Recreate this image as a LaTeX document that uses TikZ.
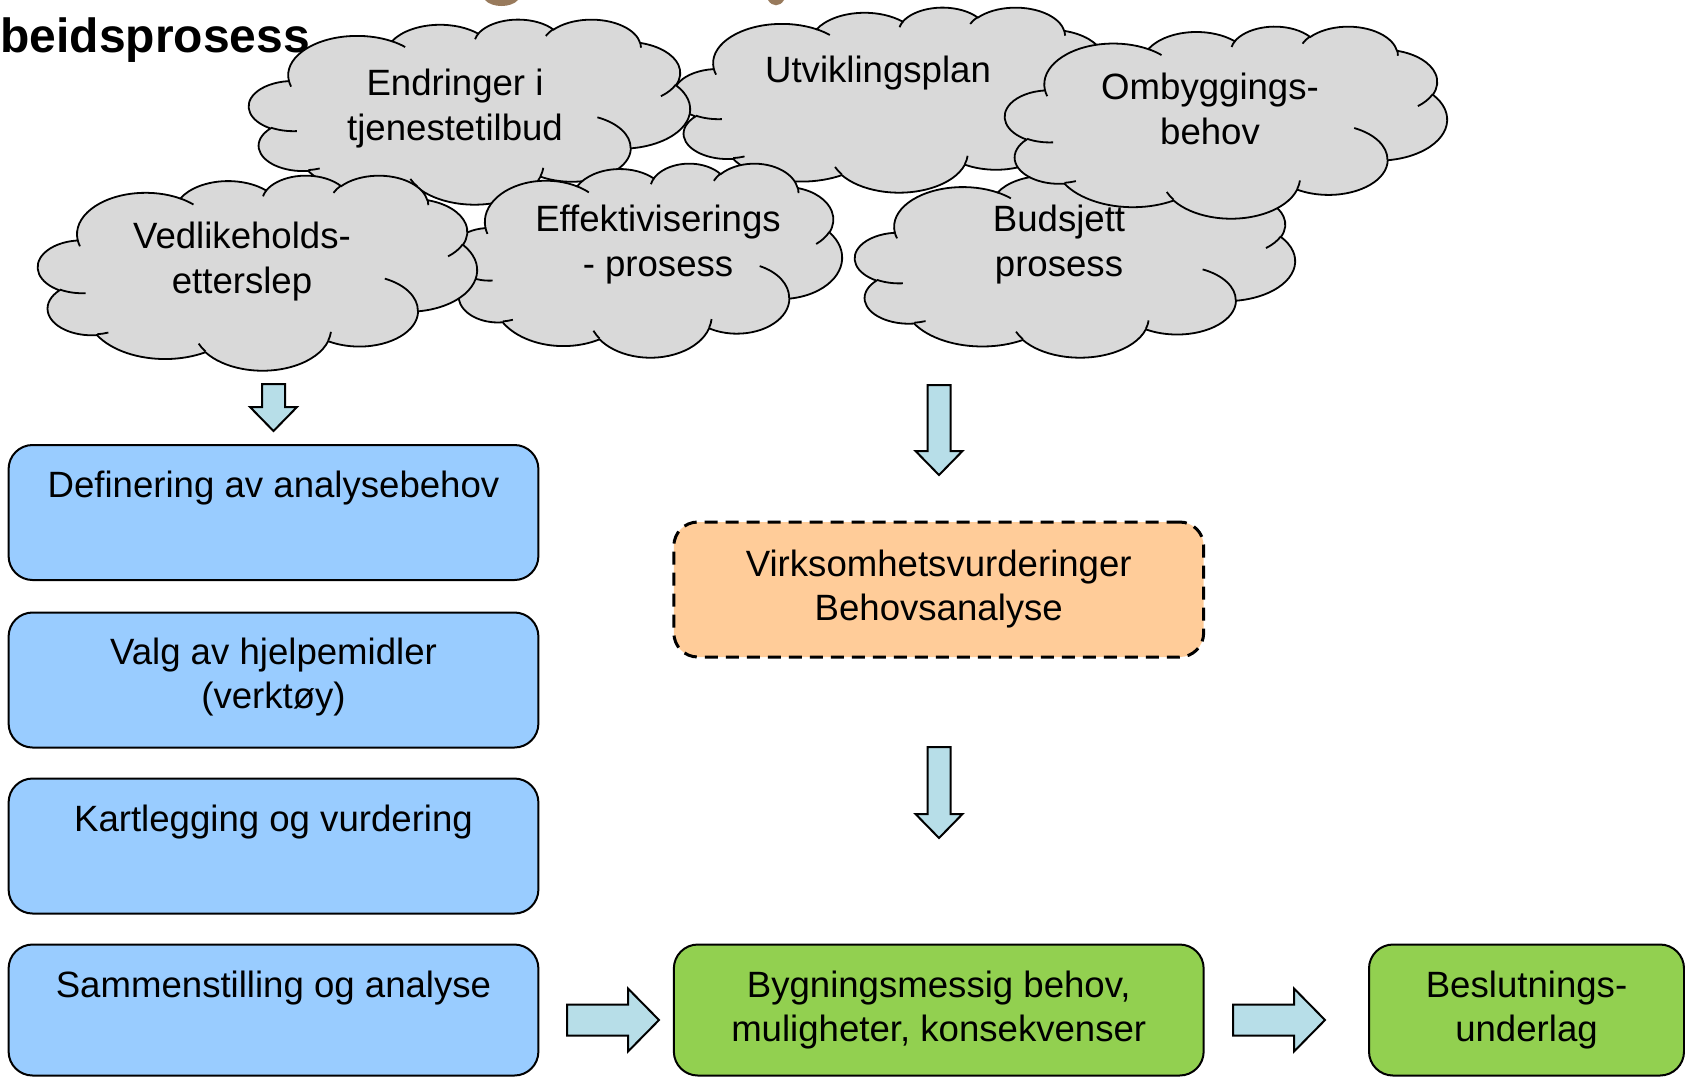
\documentclass[tikz,border=0pt]{standalone}
\usepackage{fontspec}
\setmainfont{Liberation Sans}

\definecolor{boxblue}{HTML}{99CCFF}
\definecolor{boxorange}{HTML}{FFCC99}
\definecolor{boxgreen}{HTML}{92D050}
\definecolor{arrowfill}{HTML}{B7DEE8}
\definecolor{cloudgray}{HTML}{D9D9D9}
\definecolor{titlebrown}{RGB}{152,122,92}

% Elliptic arc whose start angle and sweep are visual angles (as in office cloud shapes)
\newcommand\cloudarc[4]{%
  \pgfextra{%
    \pgfmathsetmacro\cldA{atan2((#1)*sin(#3),(#2)*cos(#3))}%
    \pgfmathsetmacro\cldB{atan2((#1)*sin((#3)+(#4)),(#2)*cos((#3)+(#4)))}%
    \pgfmathsetmacro\cldB{ifthenelse(\cldB<\cldA,\cldB+360,\cldB)}%
    \global\let\cldA\cldA\global\let\cldB\cldB}%
  arc[x radius=#1, y radius=#2, start angle=\cldA, end angle=\cldB]}

% Cloud outline in a 43.2 x 43.2 frame, placed in the box left/top/width/height
\newcommand\cloudshape[4]{%
  \begin{scope}[shift={(#1,#2)}, xscale=#3/43.2, yscale=#4/43.2]
    \filldraw[cloudline, fill=cloudgray] (3.900,14.370)
      \cloudarc{6.753}{9.190}{-190.4875}{123.7805}
      \cloudarc{5.333}{7.267}{-144.1024}{89.9452}
      \cloudarc{4.365}{5.945}{-145.8079}{99.7230}
      \cloudarc{4.857}{6.595}{-130.9861}{117.2417}
      \cloudarc{5.333}{7.273}{-78.7089}{109.0269}
      \cloudarc{6.775}{9.220}{-46.2673}{130.2690}
      \cloudarc{5.785}{7.867}{0.6250}{114.0333}
      \cloudarc{6.752}{9.215}{22.4516}{115.1726}
      \cloudarc{7.720}{10.543}{66.2426}{75.7110}
      \cloudarc{4.360}{5.918}{-274.9421}{146.7356}
      \cloudarc{4.345}{5.945}{-246.8285}{152.5189}
      -- cycle;
    \draw[cloudline]
      (4.693,26.177) \cloudarc{4.345}{5.945}{86.7420}{26.4295}
      (6.928,34.899) \cloudarc{4.360}{5.918}{73.6105}{11.4475}
      (16.478,39.090) \cloudarc{6.752}{9.215}{137.6242}{14.0811}
      (28.827,34.751) \cloudarc{6.752}{9.215}{6.4533}{15.9984}
      (34.129,22.954) \cloudarc{5.785}{7.867}{-70.2924}{70.9174}
      (41.798,15.354) \cloudarc{5.333}{7.273}{30.3180}{27.7515}
      (38.324,5.426) \cloudarc{4.857}{6.595}{-13.7443}{14.8589}
      (29.078,3.952) \cloudarc{4.857}{6.595}{-149.1815}{18.1954}
      (22.141,4.720) \cloudarc{4.365}{5.945}{-163.4943}{17.6864}
      (14.000,5.192) \cloudarc{6.753}{9.190}{-66.7070}{12.3194}
      (4.127,15.789) \cloudarc{6.753}{9.190}{157.6544}{11.8582};
  \end{scope}}

% Block arrows, drawn from a named anchor point
\newcommand\downblock[2]{%
  \begin{scope}[shift={(#1)}]
    \draw[blockarrow] (-11.5,0) -- (11.5,0) -- (11.5,#2-24) -- (23.5,#2-24)
      -- (0,#2) -- (-23.5,#2-24) -- (-11.5,#2-24) -- cycle;
  \end{scope}}
\newcommand\rightblock[1]{%
  \begin{scope}[shift={(#1)}]
    \draw[blockarrow] (0,-15.5) -- (61,-15.5) -- (61,-31.5) -- (92,0)
      -- (61,31.5) -- (61,15.5) -- (0,15.5) -- cycle;
  \end{scope}}

\begin{document}
\begin{tikzpicture}[x=0.5pt, y=-0.5pt,
  cloudline/.style={draw=black, line width=0.9pt},
  blockarrow/.style={draw=black, line width=1pt, fill=arrowfill, line join=miter},
  box/.style={draw=black, line width=1pt, rounded corners=12pt,
    minimum width=264.9pt, minimum height=67.5pt, inner sep=0pt},
  bluebox/.style={box, fill=boxblue},
  greenbox/.style={box, fill=boxgreen, minimum height=65.5pt},
  orangebox/.style={box, fill=boxorange, dashed, dash pattern=on 6.5pt off 4pt,
    line width=1.5pt},
  txt/.style={inner sep=0pt, align=center, font=\fontsize{18.3}{22}\selectfont},
  cloudtxt/.style={txt, font=\fontsize{18.3}{22.5}\selectfont}]

\useasboundingbox (0,0) rectangle (1685,1078);

% heading
\node[anchor=base west, inner sep=0pt, font=\bfseries\fontsize{24}{28}\selectfont]
  (title) at (0,52) {beidsprosess};
\fill[titlebrown] (485,0) .. controls (492,8) and (511,8) .. (518,0) -- cycle;
\fill[titlebrown] (768,0) .. controls (772,7) and (780,7) .. (784,0) -- cycle;

% clouds
\cloudshape{674}{7}{440}{185}
\cloudshape{249}{19}{441}{185}
\cloudshape{450}{163}{392}{194}
\cloudshape{855}{170}{440}{187}
\cloudshape{1005}{26}{442}{192}
\cloudshape{38}{175}{439}{195}

\node[cloudtxt] (c-utv) at (878,73) {Utviklingsplan};
\node[cloudtxt] (c-endr) at (455,109) {Endringer i\\tjenestetilbud};
\node[cloudtxt] (c-eff) at (658,245) {Effektiviserings\\- prosess};
\node[cloudtxt] (c-bud) at (1059,245) {Budsjett\\prosess};
\node[cloudtxt] (c-omb) at (1210,109) {Ombyggings-\\behov};
\node[cloudtxt] (c-ved) at (242,262) {Vedlikeholds-\\etterslep};

% boxes
\node[bluebox] (b1) at (273.5,512.5) {};
\node[bluebox] (b2) at (273.5,680) {};
\node[bluebox] (b3) at (273.5,846) {};
\node[bluebox, minimum height=65.5pt] (b4) at (273.5,1010) {};
\node[txt, anchor=north] (t1) at ([yshift=-13.5pt]b1.north) {Definering av analysebehov};
\node[txt, anchor=north] (t2) at ([yshift=-13pt]b2.north) {Valg av hjelpemidler\\(verktøy)};
\node[txt, anchor=north] (t3) at ([yshift=-13.5pt]b3.north) {Kartlegging og vurdering};
\node[txt, anchor=north] (t4) at ([yshift=-13.5pt]b4.north) {Sammenstilling og analyse};

\node[orangebox, txt] (vb) at (938.75,589.5)
  {Virksomhetsvurderinger\\Behovsanalyse};
\node[greenbox, txt] (g1) at (938.75,1010)
  {Bygningsmessig behov,\\muligheter, konsekvenser};
\node[greenbox, txt, minimum width=157.5pt] (g2) at (1526.5,1010)
  {Beslutnings-\\underlag};

% block arrows
\coordinate (arrowA) at (273.5,384);
\coordinate (arrowB) at (939,385);
\coordinate (arrowC) at (939,747);
\coordinate (arrowD) at (567,1020);
\coordinate (arrowE) at (1233,1020);
\downblock{arrowA}{47}
\downblock{arrowB}{90}
\downblock{arrowC}{91}
\rightblock{arrowD}
\rightblock{arrowE}
\end{tikzpicture}
\end{document}
